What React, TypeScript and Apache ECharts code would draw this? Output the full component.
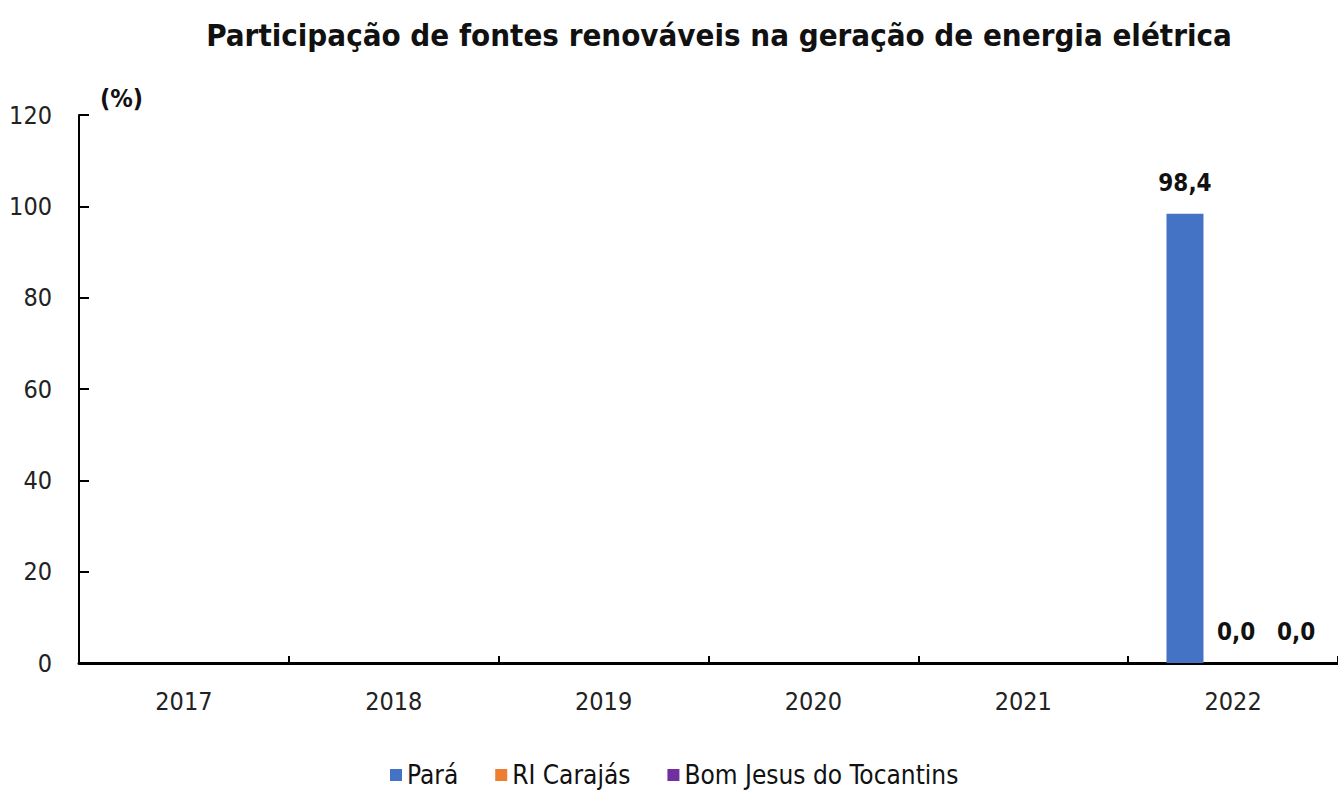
import React, { useEffect, useRef } from "react";
import * as echarts from "echarts";

const years = ["2017", "2018", "2019", "2020", "2021", "2022"];
const para = [null, null, null, null, null, 98.4];
const riCarajas = [null, null, null, null, null, 0.0];
const bomJesus = [null, null, null, null, null, 0.0];
const yTicks = { min: 0, max: 120, interval: 20 };

const FONT = "'Liberation Sans Narrow', 'Arial Narrow', 'DejaVu Sans Condensed', sans-serif";

const fmt = (p: any) =>
  p.value === null || p.value === undefined ? "" : Number(p.value).toFixed(1).replace(".", ",");

export default function App() {
  const ref = useRef<HTMLDivElement>(null);
  useEffect(() => {
    if (!ref.current) return;
    const chart = echarts.init(ref.current, undefined, { renderer: "svg" });
    const labelBase = {
      show: true,
      position: "top" as const,
      distance: 19,
      formatter: fmt,
      fontFamily: FONT,
      fontSize: 24,
      fontWeight: "bold" as const,
      color: "#111",
    };
    chart.setOption({
      animation: false,
      backgroundColor: "#fff",
      title: {
        text: "Participação de fontes renováveis na geração de energia elétrica",
        left: 714,
        textAlign: "center",
        top: 14,
        textStyle: { fontFamily: FONT, fontSize: 31, fontWeight: "bold", color: "#111" },
      },
      graphic: [
        {
          type: "text",
          left: 100,
          top: 86,
          style: { text: "(%)", fontFamily: FONT, fontSize: 25, fontWeight: "bold", fill: "#111" },
        },
      ],
      legend: {
        top: 760,
        left: 388,
        padding: 2,
        itemWidth: 12,
        itemHeight: 12,
        itemGap: 37,
        icon: "rect",
        textStyle: { fontFamily: FONT, fontSize: 26, color: "#111", padding: [0, 0, 0, 0] },
        data: ["Pará", "RI Carajás", "Bom Jesus do Tocantins"],
      },
      grid: { left: 79, top: 115, width: 1263, height: 548, containLabel: false },
      xAxis: {
        type: "category",
        data: years,
        axisLine: { lineStyle: { color: "#000", width: 3 } },
        axisTick: { show: true, inside: true, length: 7, lineStyle: { color: "#000", width: 2 } },
        axisLabel: { fontFamily: FONT, fontSize: 25, color: "#222", margin: 26 },
      },
      yAxis: {
        type: "value",
        min: yTicks.min,
        max: yTicks.max,
        interval: yTicks.interval,
        splitLine: { show: false },
        axisLine: { show: true, lineStyle: { color: "#000", width: 2 } },
        axisTick: { show: true, inside: true, length: 10, lineStyle: { color: "#000", width: 2 } },
        axisLabel: { fontFamily: FONT, fontSize: 25, color: "#222", margin: 27 },
      },
      series: [
        {
          name: "Pará",
          type: "bar",
          data: para,
          barWidth: 37,
          barGap: "30%",
          itemStyle: { color: "#4472C4" },
          label: labelBase,
        },
        {
          name: "RI Carajás",
          type: "bar",
          data: riCarajas,
          barWidth: 37,
          barGap: "30%",
          itemStyle: { color: "#ED7D31" },
          label: { ...labelBase, offset: [3, 0] },
        },
        {
          name: "Bom Jesus do Tocantins",
          type: "bar",
          data: bomJesus,
          barWidth: 37,
          barGap: "30%",
          itemStyle: { color: "#7030A0" },
          label: { ...labelBase, offset: [15, 0] },
        },
      ],
    });
    return () => chart.dispose();
  }, []);
  return (
    <div
      ref={ref}
      style={{ position: "fixed", left: 0, top: 0, width: 1338, height: 790, background: "#fff" }}
    />
  );
}
